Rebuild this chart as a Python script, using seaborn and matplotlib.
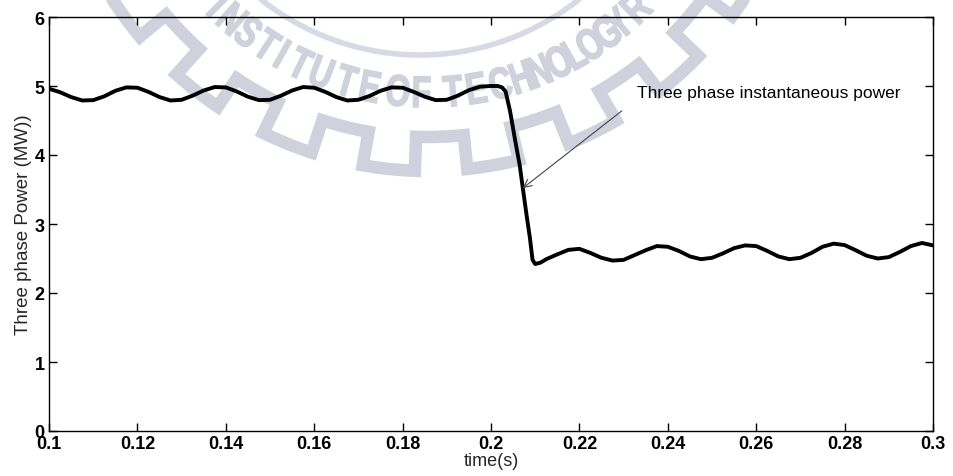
import numpy as np
import pandas as pd
import matplotlib
matplotlib.use("Agg")
import matplotlib.pyplot as plt
import seaborn as sns
from matplotlib.textpath import TextPath
from matplotlib.patches import PathPatch
from matplotlib.font_manager import FontProperties
from matplotlib.transforms import Affine2D

# values
time_s = [
    0.1, 0.1025, 0.105, 0.1075, 0.11, 0.1125, 0.115, 0.1175,
    0.12, 0.1225, 0.125, 0.1275, 0.13, 0.1325, 0.135, 0.1375,
    0.14, 0.1425, 0.145, 0.1475, 0.15, 0.1525, 0.155, 0.1575,
    0.16, 0.1625, 0.165, 0.1675, 0.17, 0.1725, 0.175, 0.1775,
    0.18, 0.1825, 0.185, 0.1875, 0.19, 0.1925, 0.195, 0.1975,
    0.2, 0.2015, 0.2025, 0.2033, 0.2043, 0.2055, 0.2065, 0.2072,
    0.208, 0.2088, 0.2094, 0.21, 0.2112,
    0.2125, 0.215, 0.2175, 0.22, 0.2225, 0.225, 0.2275, 0.23,
    0.2325, 0.235, 0.2375, 0.24, 0.2425, 0.245, 0.2475, 0.25,
    0.2525, 0.255, 0.2575, 0.26, 0.2625, 0.265, 0.2675, 0.27,
    0.2725, 0.275, 0.2775, 0.28, 0.2825, 0.285, 0.2875, 0.29,
    0.2925, 0.295, 0.2975, 0.3,
]
power_mw = [
    4.96, 4.91, 4.84, 4.79, 4.795, 4.85, 4.93, 4.98,
    4.975, 4.915, 4.84, 4.79, 4.80, 4.86, 4.935, 4.985,
    4.98, 4.92, 4.845, 4.795, 4.80, 4.86, 4.935, 4.985,
    4.975, 4.915, 4.84, 4.79, 4.80, 4.855, 4.93, 4.98,
    4.975, 4.915, 4.845, 4.795, 4.80, 4.86, 4.94, 4.99,
    5.0, 5.0, 4.98, 4.92, 4.64, 4.20, 3.85, 3.52,
    3.15, 2.80, 2.48, 2.42, 2.44,
    2.49, 2.56, 2.625, 2.64, 2.58, 2.51, 2.47, 2.48,
    2.55, 2.62, 2.68, 2.67, 2.61, 2.53, 2.49, 2.51,
    2.575, 2.65, 2.69, 2.68, 2.61, 2.53, 2.49, 2.51,
    2.58, 2.67, 2.715, 2.695, 2.62, 2.54, 2.50, 2.52,
    2.595, 2.68, 2.725, 2.69,
]

x_ticks = [0.1, 0.12, 0.14, 0.16, 0.18, 0.2, 0.22, 0.24, 0.26, 0.28, 0.3]
x_tick_labels = ["0.1", "0.12", "0.14", "0.16", "0.18", "0.2",
                 "0.22", "0.24", "0.26", "0.28", "0.3"]
y_ticks = [0, 1, 2, 3, 4, 5, 6]

note_text = "Three phase instantaneous power"
note_tip = (0.2072, 3.52)
note_tail = (0.2296, 4.64)
note_pos = (0.2330, 4.90)

# watermark letters and their angle on the logo circle (degrees)
wm_letters = list("INSTITUTEOFTECHNOLOGYR")
wm_angles = [-134.9, -131.2, -127.2, -122.8, -119.4, -115.4, -111.0, -105.9,
             -101.2, -95.8, -91.2, -85.2, -80.6, -75.9, -71.7, -68.0,
             -63.9, -60.4, -57.0, -53.1, -50.1, -45.5]

df = pd.DataFrame({"time": time_s, "power": power_mw})

sns.set_style("ticks")
plt.rcParams["font.family"] = ["Liberation Sans", "DejaVu Sans"]

W, H = 954, 477
fig = plt.figure(figsize=(9.54, 4.77), dpi=100)
fig.patch.set_facecolor("white")

# faint logo watermark behind the plot, drawn in pixel units (y up)
bg = fig.add_axes([0, 0, 1, 1], zorder=-1)
bg.set_xlim(0, W)
bg.set_ylim(0, H)
bg.axis("off")
wm_col = "#cfd1dc"
cx, cy, rad = 428, H + 204, 297
fp = FontProperties(family="Liberation Sans", weight="bold")
for ch, ang in zip(wm_letters, wm_angles):
    a = np.deg2rad(ang)
    tp = TextPath((0, 0), ch, size=44, prop=fp)
    ext = tp.get_extents()
    tr = (Affine2D()
          .translate(-(ext.x0 + ext.x1) / 2, -(ext.y0 + ext.y1) / 2)
          .scale(0.72, 1.0)
          .rotate_deg(ang + 90)
          .translate(cx + rad * np.cos(a), cy + rad * np.sin(a)))
    bg.add_patch(PathPatch(tr.transform_path(tp), fc=wm_col, ec=wm_col,
                           lw=1.2))
gx, gy = [], []
r_in, r_out = 342, 376
for k, a0 in enumerate(range(-180, -4, 8)):
    r = r_out if k % 2 == 0 else r_in
    for a in np.linspace(a0, a0 + 8, 6):
        t = np.deg2rad(a)
        gx.append(cx + r * np.cos(t))
        gy.append(cy + r * np.sin(t))
bg.plot(gx, gy, color=wm_col, lw=9, solid_joinstyle="miter")
arc = np.deg2rad(np.linspace(-150, -30, 80))
bg.plot(cx - 8 + 255 * np.cos(arc), cy - 5 + 255 * np.sin(arc),
        color="#d5dae6", lw=4)

ax = fig.add_axes([49 / W, 1 - 432 / H, 884 / W, 414 / H])
ax.set_facecolor("none")
sns.lineplot(data=df, x="time", y="power", color="black", linewidth=2.8,
             sort=False, estimator=None, ax=ax)
ax.lines[0].set_solid_joinstyle("round")
ax.lines[0].set_solid_capstyle("round")

ax.set_xlim(0.1, 0.3)
ax.set_ylim(0, 6)
ax.set_xticks(x_ticks)
ax.set_xticklabels(x_tick_labels)
ax.set_yticks(y_ticks)
ax.tick_params(direction="in", top=True, right=True, length=6, width=1,
               labelsize=13, pad=3, colors="black")
for lab in ax.get_xticklabels() + ax.get_yticklabels():
    lab.set_fontweight("bold")
for sp in ax.spines.values():
    sp.set_visible(True)
    sp.set_linewidth(1)
    sp.set_color("black")

ax.set_xlabel("time(s)", fontsize=13, labelpad=0)
ax.set_ylabel("Three phase Power (MW))", fontsize=13.5, labelpad=2)

ax.annotate("", xy=note_tip, xytext=note_tail,
            arrowprops=dict(arrowstyle="->", color="#444444", lw=0.8,
                            mutation_scale=14, shrinkA=0, shrinkB=0))
ax.text(note_pos[0], note_pos[1], note_text, fontsize=12.5,
        ha="left", va="center", color="black")

fig.savefig("out.png", dpi=100)
